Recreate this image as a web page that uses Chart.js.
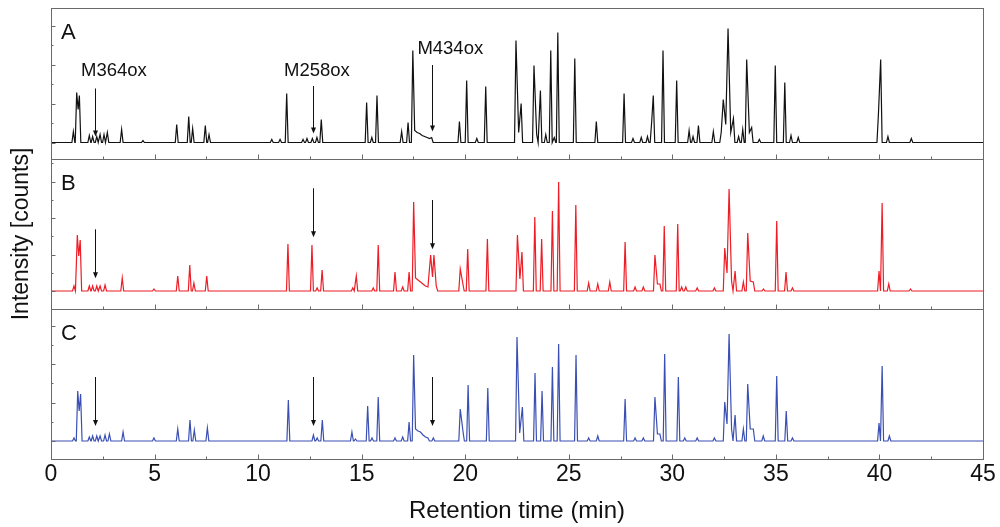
<!DOCTYPE html>
<html>
<head>
<meta charset="utf-8">
<script src="https://cdn.jsdelivr.net/npm/chart.js@4.4.0/dist/chart.umd.min.js"></script>
<style>
  html, body { margin: 0; padding: 0; background: #fff; }
  #wrap { position: relative; width: 1000px; height: 527px; }
  #wrap canvas { position: absolute; left: 0; top: 0; }
</style>
</head>
<body>
<div id="wrap">
  <canvas id="panelA" width="1000" height="527"></canvas>
  <canvas id="panelB" width="1000" height="527"></canvas>
  <canvas id="panelC" width="1000" height="527"></canvas>
</div>
<script>
// Retention time axis (min)
const X_MIN = 0, X_MAX = 45;
const xTickValues = [0, 5, 10, 15, 20, 25, 30, 35, 40, 45];

// Chromatogram A (black): peak apexes / valleys, time (min) and intensity (a.u.)
const timeA = [1.08, 1.24, 1.31, 1.37, 1.85, 2.01, 2.21, 2.37, 2.56, 2.72, 3.41, 4.44, 6.07, 6.65, 6.84, 7.45, 7.63,
  10.66, 11.06, 11.38, 12.17, 12.36, 12.62, 12.84, 13.05, 15.24, 15.49, 15.74, 16.93, 17.24, 17.47, 17.56, 17.68,
  17.80, 17.92, 18.04, 18.16, 18.28, 18.38, 19.72, 20.07, 20.56, 20.99, 22.45, 22.58, 22.70, 23.32, 23.45, 23.63,
  23.89, 24.13, 24.30, 24.47, 25.29, 26.33, 27.67, 28.10, 28.50, 28.80, 29.00, 29.08, 29.55, 30.21, 30.81, 31.00,
  31.26, 31.98, 32.36, 32.46, 32.58, 32.69, 32.82, 32.95, 33.20, 33.40, 33.59, 33.72, 33.83, 34.20, 34.97, 35.43,
  35.73, 36.08, 39.95, 40.06, 40.41, 41.54];
const intensityA = [11, 50, 33, 47, 7, 6, 6, 8, 8, 10, 13, 2, 18, 26, 14, 17, 8,
  3, 3, 49, 3, 4, 4, 5, 23, 40, 5, 47, 11, 20, 92, 12, 10,
  9, 7, 6, 5, 4, 5, 21, 62, 4, 56, 102, 10, 39, 77, 8, 52,
  8, 92, 5, 110, 84, 21, 49, 4, 5, 6, 20, 47, 92, 62, 12, 6,
  17, 11, 10, 43, 18, 114, 10, 24, 6, 13, 83, 10, 15, 3, 77, 60,
  7, 5, 28, 83, 6, 4];

// Chromatogram B (red)
const timeB = [1.11, 1.27, 1.34, 1.41, 1.85, 2.01, 2.21, 2.37, 2.61, 3.44, 4.97, 6.12, 6.70, 6.90, 7.52, 11.44,
  12.60, 12.85, 13.09, 14.57, 14.74, 15.56, 15.80, 16.61, 16.98, 17.29, 17.51, 17.60, 17.72, 17.84, 17.96, 18.08,
  18.20, 18.33, 18.42, 18.49, 18.60, 19.76, 19.88, 20.12, 21.07, 22.52, 22.64, 22.74, 23.36, 23.69, 24.21, 24.51,
  25.34, 25.96, 26.40, 26.98, 27.72, 28.20, 28.60, 29.16, 29.28, 29.40, 29.61, 30.26, 30.45, 30.65, 31.20, 32.03,
  32.53, 32.64, 32.74, 32.86, 33.03, 33.43, 33.64, 33.76, 33.91, 34.40, 35.04, 35.49, 35.80, 39.98, 40.13, 40.45,
  41.50];
const intensityB = [5, 56, 35, 51, 5, 5, 5, 5, 6, 13, 2, 15, 26, 8, 15, 47,
  46, 3, 21, 3, 15, 3, 46, 19, 4, 19, 89, 13, 11, 9, 7, 5,
  4, 36, 14, 36, 5, 22, 8, 42, 52, 56, 12, 39, 74, 52, 80, 109,
  86, 8, 7, 9, 49, 4, 4, 36, 7, 7, 65, 67, 4, 4, 3, 3,
  43, 18, 102, 10, 20, 9, 58, 10, 9, 2, 70, 19, 3, 20, 88, 7,
  2];

// Chromatogram C (blue)
const timeC = [1.11, 1.29, 1.36, 1.43, 1.85, 2.01, 2.21, 2.37, 2.61, 2.82, 3.48, 4.97, 6.12, 6.71, 6.92, 7.55,
  11.46, 12.67, 12.85, 13.10, 14.53, 14.70, 15.29, 15.50, 15.80, 16.61, 16.98, 17.29, 17.51, 17.60, 17.72, 17.84,
  17.96, 18.08, 18.20, 18.46, 19.76, 19.89, 20.14, 21.09, 22.50, 22.63, 22.76, 23.37, 23.71, 24.21, 24.51, 25.35,
  25.96, 26.40, 27.72, 28.20, 28.60, 29.16, 29.28, 29.40, 29.63, 30.29, 30.60, 31.20, 32.03, 32.53, 32.64, 32.74,
  32.86, 33.03, 33.43, 33.64, 33.76, 33.91, 34.39, 35.04, 35.50, 35.80, 39.98, 40.13, 40.48];
const intensityC = [3, 50, 30, 47, 4, 5, 5, 5, 6, 7, 9, 3, 12, 21, 11, 13,
  41, 6, 3, 21, 9, 2, 35, 3, 44, 3, 4, 19, 86, 12, 10, 9,
  6, 4, 3, 3, 32, 10, 56, 53, 104, 8, 34, 68, 50, 74, 97, 86,
  3, 5, 42, 3, 3, 44, 7, 7, 87, 64, 3, 3, 3, 39, 17, 107,
  12, 26, 12, 57, 12, 12, 5, 65, 30, 3, 18, 75, 5];

// Marked metabolites (arrows)
const peakNames = ['M364ox', 'M258ox', 'M434ox'];
const nameTimes = [1.45, 11.25, 17.69];
const nameLevels = [66.5, 66.5, 89];
const arrowTimes = [2.12, 12.65, 18.40];
const arrowTopA = [54, 56.5, 77.5], arrowTipA = [6, 9, 11];
const arrowTopB = [61.7, 102.7, 91], arrowTipB = [12.7, 53.7, 41.7];
const arrowTopC = [64, 64, 64], arrowTipC = [15, 15, 15];

const FONT = '"Liberation Sans", Arial, Helvetica, sans-serif';
Chart.defaults.font.family = FONT;

// Peak list -> line points; isolated peaks get a baseline foot on each side
function buildTrace(times, levels) {
    const half = 0.07, gap = 0.15;
    const pts = [{ x: X_MIN, y: 0 }];
    for (let i = 0; i < times.length; i++) {
        const t = times[i];
        if (i === 0 || t - times[i - 1] > gap) pts.push({ x: t - half, y: 0 });
        pts.push({ x: t, y: levels[i] });
        if (i === times.length - 1 || times[i + 1] - t > gap) pts.push({ x: t + half, y: 0 });
    }
    pts.push({ x: X_MAX, y: 0 });
    return pts;
}

// Frame, inward ticks, panel letter, arrows and labels
const panelDeco = {
    id: 'panelDeco',
    afterDatasetsDraw(chart, args, opts) {
        const { ctx, chartArea: a } = chart;
        const x = chart.scales.x, y = chart.scales.y;
        ctx.save();
        ctx.strokeStyle = '#6a6a6a';
        ctx.lineWidth = 1;
        const L = Math.round(a.left) + 0.5, T = Math.round(a.top) + 0.5;
        const R = Math.round(a.right) + 0.5, B = Math.round(a.bottom) + 0.5;
        ctx.strokeRect(L, T, R - L, B - T);

        ctx.beginPath();
        for (let v = X_MIN; v <= X_MAX; v += 2.5) {
            const px = Math.round(x.getPixelForValue(v)) + 0.5;
            const len = v % 5 === 0 ? 5 : 3;
            ctx.moveTo(px, B); ctx.lineTo(px, B - len);
        }
        for (let k = 0; k * opts.step / 2 <= y.max; k++) {
            const py = Math.round(y.getPixelForValue(k * opts.step / 2)) + 0.5;
            const len = k % 2 === 0 ? 4 : 2;
            ctx.moveTo(L, py); ctx.lineTo(L + len, py);
        }
        ctx.stroke();

        ctx.fillStyle = '#111';
        ctx.font = '22px ' + FONT;
        ctx.textBaseline = 'alphabetic';
        ctx.fillText(opts.letter, a.left + 10, a.top + 31);

        // arrows
        ctx.strokeStyle = '#111';
        ctx.lineWidth = 1;
        arrowTimes.forEach((t, i) => {
            const px = Math.round(x.getPixelForValue(t)) + 0.5;
            const y0 = y.getPixelForValue(opts.arrowTop[i]);
            const y1 = y.getPixelForValue(opts.arrowTip[i]);
            ctx.beginPath();
            ctx.moveTo(px, y0); ctx.lineTo(px, y1 - 5);
            ctx.stroke();
            ctx.beginPath();
            ctx.moveTo(px - 2.5, y1 - 6); ctx.lineTo(px + 2.5, y1 - 6); ctx.lineTo(px, y1);
            ctx.closePath();
            ctx.fill();
        });

        if (opts.names) {
            ctx.font = '18.5px ' + FONT;
            peakNames.forEach((n, i) => {
                ctx.fillText(n, x.getPixelForValue(nameTimes[i]), y.getPixelForValue(nameLevels[i]));
            });
        }
        ctx.restore();
    }
};

function makePanel(canvasId, times, levels, colour, yMin, yMax, deco, padding, xExtra, yExtra) {
    const ctx = document.getElementById(canvasId).getContext('2d');
    return new Chart(ctx, {
        type: 'line',
        data: {
            datasets: [{
                data: buildTrace(times, levels),
                borderColor: colour,
                borderWidth: 1.2,
                pointRadius: 0,
                tension: 0,
                fill: false
            }]
        },
        options: {
            responsive: false,
            animation: false,
            events: [],
            layout: { padding: padding },
            scales: {
                x: Object.assign({ type: 'linear', min: X_MIN, max: X_MAX, display: false }, xExtra || {}),
                y: Object.assign({ type: 'linear', min: yMin, max: yMax, display: false }, yExtra || {})
            },
            plugins: {
                legend: { display: false },
                tooltip: { enabled: false },
                panelDeco: deco
            }
        },
        plugins: [panelDeco]
    });
}

// A
makePanel('panelA', timeA, intensityA, '#111111', -16.5, 134.5,
    { letter: 'A', step: 39, arrowTop: arrowTopA, arrowTip: arrowTipA, names: true },
    { top: 8, bottom: 368, left: 51, right: 17 });

// B (carries the shared y title)
makePanel('panelB', timeB, intensityB, '#ee1c25', -18, 132,
    { letter: 'B', step: 36.5, arrowTop: arrowTopB, arrowTip: arrowTipB },
    { top: 159, bottom: 218, left: 0, right: 17 },
    null,
    {
        display: true,
        ticks: { display: false },
        grid: { display: false, drawTicks: false },
        border: { display: false },
        title: {
            display: true,
            text: 'Intensity [counts]',
            color: '#111',
            font: { size: 23 },
            padding: { top: 8, bottom: 0 }
        },
        afterFit: (scale) => { scale.width = 51; }
    });

// C (carries the x axis)
makePanel('panelC', timeC, intensityC, '#3a4fb3', -18, 132,
    { letter: 'C', step: 38.5, arrowTop: arrowTopC, arrowTip: arrowTipC },
    { top: 309, bottom: 0, left: 51, right: 17 },
    {
        display: true,
        afterBuildTicks: (scale) => { scale.ticks = xTickValues.map(v => ({ value: v })); },
        ticks: { autoSkip: false, maxRotation: 0, padding: 2, color: '#111', font: { size: 23 } },
        grid: { display: false, drawTicks: false },
        border: { display: false },
        title: {
            display: true,
            text: 'Retention time (min)',
            color: '#111',
            font: { size: 24 },
            padding: { top: 0, bottom: 1 }
        },
        afterFit: (scale) => { scale.height = 68; }
    });
</script>
</body>
</html>
